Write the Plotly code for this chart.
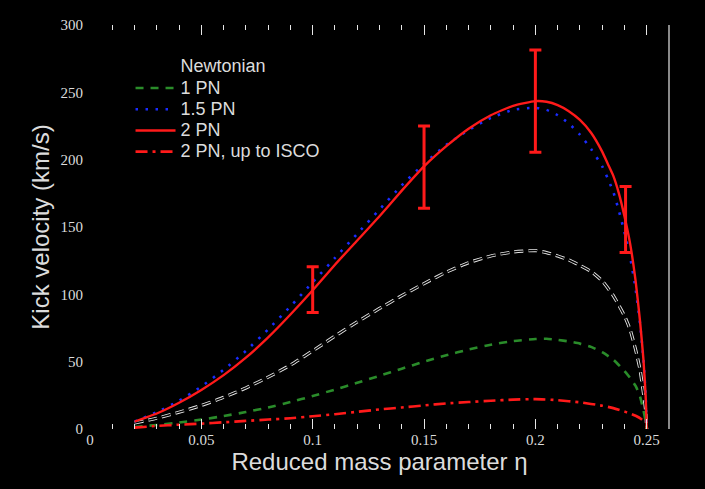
import plotly.graph_objects as go

# ---- data ----
eta_newt = [0.02, 0.03, 0.04, 0.05, 0.06, 0.07, 0.08, 0.09, 0.10, 0.11, 0.12, 0.13, 0.14, 0.15,
            0.16, 0.17, 0.18, 0.19, 0.20, 0.205, 0.21, 0.215, 0.22, 0.225, 0.23, 0.235, 0.24,
            0.2425, 0.245, 0.247, 0.2485, 0.2495, 0.25]
v_newt = [4.5, 8, 12.5, 17.5, 23.5, 30.5, 38.5, 47.5, 58, 69, 79.5, 89.5, 99, 108,
          116.5, 123.5, 128.5, 131.5, 132.5, 131, 128.5, 125.5, 121.5, 117, 110, 99, 84,
          74, 59, 44, 27, 14, 0]

eta_1pn = [0.02, 0.03, 0.04, 0.05, 0.06, 0.07, 0.08, 0.09, 0.10, 0.11, 0.12, 0.13, 0.14, 0.15,
           0.16, 0.17, 0.18, 0.19, 0.20, 0.205, 0.21, 0.215, 0.22, 0.225, 0.23, 0.235, 0.24,
           0.2425, 0.245, 0.247, 0.2485, 0.2495, 0.25]
v_1pn = [1.5, 3, 4.8, 7, 9.6, 12.6, 16, 20, 24.5, 29.3, 34.3, 39.5, 44.8, 50,
         54.8, 59, 62.6, 65.3, 66.8, 67, 66.2, 65, 63.4, 61, 57, 51.5, 43,
         38, 32, 24, 14, 6, 0]

eta_15pn = [0.02, 0.03, 0.04, 0.05, 0.06, 0.07, 0.08, 0.09, 0.10, 0.11, 0.12, 0.13, 0.14, 0.15,
            0.16, 0.17, 0.18, 0.19, 0.20, 0.205, 0.21, 0.215, 0.22, 0.225, 0.23, 0.2325, 0.235,
            0.2375, 0.24, 0.2425, 0.245, 0.247, 0.2485, 0.2495, 0.25]
v_15pn = [5.5, 12.5, 21, 31.5, 44, 58, 74, 91, 109, 127, 145, 163, 181, 197,
          211, 222, 231, 237, 238.5, 237, 233, 227, 218.5, 208, 195, 186, 176,
          162, 146, 128, 104, 78, 52, 26, 0]

eta_2pn = [0.02, 0.03, 0.04, 0.05, 0.06, 0.07, 0.08, 0.09, 0.10, 0.11, 0.12, 0.13, 0.14, 0.15,
           0.16, 0.17, 0.18, 0.19, 0.20, 0.205, 0.21, 0.215, 0.22, 0.225, 0.23, 0.2325, 0.235,
           0.2375, 0.24, 0.2425, 0.245, 0.247, 0.2485, 0.2495, 0.25]
v_2pn = [5.5, 11.5, 19.5, 29, 40, 53, 68, 85, 103, 122, 140, 158, 177, 195,
         210, 223, 233, 240, 243.5, 243, 240.5, 236, 229.5, 220, 206, 197, 188,
         175, 158, 138, 110, 80, 52, 25, 0]

eta_isco = [0.02, 0.03, 0.04, 0.05, 0.06, 0.07, 0.08, 0.09, 0.10, 0.11, 0.12, 0.13, 0.14, 0.15,
            0.16, 0.17, 0.18, 0.19, 0.20, 0.21, 0.22, 0.23, 0.235, 0.24, 0.245, 0.2475, 0.2495]
v_isco = [1, 2.3, 3.2, 4, 5, 6, 7, 8, 9.5, 11, 12.8, 14.5, 16, 17.5,
          19, 20, 21, 21.8, 22.2, 21.4, 19.8, 17.3, 15.5, 13, 9.8, 7.5, 4]

err_eta = [0.1, 0.15, 0.2, 0.2405]
err_center = [103.5, 194.5, 243.5, 155.5]
err_plus = [17, 30.5, 38, 24.5]
err_minus = [17, 30.5, 38, 24.5]

names = ["Newtonian", "1 PN", "1.5 PN", "2 PN", "2 PN, up to ISCO"]

x_tickvals = [0, 0.05, 0.1, 0.15, 0.2, 0.25]
x_ticktext = ["0", "0.05", "0.1", "0.15", "0.2", "0.25"]
y_tickvals = [0, 50, 100, 150, 200, 250, 300]
y_ticktext = ["0", "50", "100", "150", "200", "250", "300"]

TXT = "#dcdcdc"
SM = 0.5


def lg(s):
    return '<span style="font-size:18px">' + s + '</span>'


fig = go.Figure()

# Newtonian: black dashed line with a light outline
fig.add_trace(go.Scatter(x=eta_newt, y=v_newt, mode="lines", showlegend=False,
                         line=dict(color="#e6e6e6", width=3.2, dash="9px,5px", shape="spline", smoothing=SM),
                         hoverinfo="skip"))
fig.add_trace(go.Scatter(x=eta_newt, y=v_newt, mode="lines", name=lg(names[0]),
                         line=dict(color="black", width=1.4, dash="9px,5px", shape="spline", smoothing=SM)))
fig.add_trace(go.Scatter(x=eta_1pn, y=v_1pn, mode="lines", name=lg(names[1]),
                         line=dict(color="#2a8c2a", width=2.6, dash="8px,7px", shape="spline", smoothing=SM)))
fig.add_trace(go.Scatter(x=eta_15pn, y=v_15pn, mode="lines", name=lg(names[2]),
                         line=dict(color="#1a2cff", width=2.6, dash="2.5px,7.5px", shape="spline", smoothing=SM)))
fig.add_trace(go.Scatter(x=eta_2pn, y=v_2pn, mode="lines", name=lg(names[3]),
                         line=dict(color="#ff1a1a", width=2.4, shape="spline", smoothing=SM)))
fig.add_trace(go.Scatter(x=eta_isco, y=v_isco, mode="lines", name=lg(names[4]),
                         line=dict(color="#ff1a1a", width=2.6, dash="12px,5px,3px,5px", shape="spline", smoothing=SM)))
fig.add_trace(go.Scatter(x=err_eta, y=err_center, mode="markers", showlegend=False,
                         marker=dict(size=0.1, color="#ff1a1a"),
                         error_y=dict(type="data", symmetric=False, array=err_plus, arrayminus=err_minus,
                                      color="#ff1a1a", thickness=3, width=6)))

fig.add_shape(type="line", xref="paper", yref="paper", x0=1, x1=1, y0=0, y1=1,
              line=dict(color="#e6e6e6", width=1.2))

fig.update_layout(
    width=705, height=489,
    paper_bgcolor="black", plot_bgcolor="black",
    margin=dict(l=90, r=36, t=25, b=60, autoexpand=False),
    showlegend=True,
    legend=dict(x=0.07, y=0.935, xanchor="left", yanchor="top", bgcolor="rgba(0,0,0,0)",
                font=dict(family="Liberation Sans, Arial", size=14, color=TXT),
                itemwidth=40, tracegroupgap=0),
    xaxis=dict(range=[0, 0.26], tickvals=x_tickvals, ticktext=x_ticktext,
               showgrid=False, zeroline=False, showline=False,
               ticks="inside", ticklen=10, tickcolor="#e6e6e6", tickwidth=1, mirror="allticks",
               minor=dict(dtick=0.01, tick0=0, ticks="inside", ticklen=5, tickcolor="#e6e6e6", tickwidth=1),
               tickfont=dict(family="Liberation Serif, Times New Roman", size=15, color=TXT),
               title=dict(text="Reduced mass parameter η", standoff=6,
                          font=dict(family="Liberation Sans, Arial", size=24, color=TXT))),
    yaxis=dict(range=[0, 300], tickvals=y_tickvals, ticktext=y_ticktext,
               showgrid=False, zeroline=False, showline=False, ticks="",
               ticklabelstandoff=6,
               tickfont=dict(family="Liberation Serif, Times New Roman", size=15, color=TXT),
               title=dict(text="Kick velocity (km/s)", standoff=4,
                          font=dict(family="Liberation Sans, Arial", size=24, color=TXT))),
)

fig.write_html("out.html", config={"displayModeBar": False},
               post_script="document.body.style.margin='0';document.body.style.background='black';")
